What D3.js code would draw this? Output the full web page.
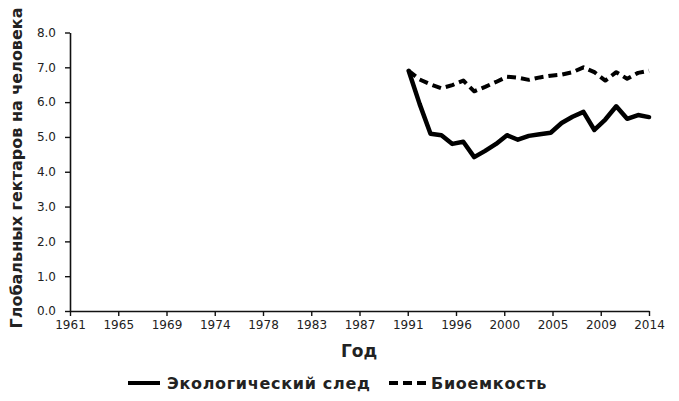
<!DOCTYPE html>
<html><head><meta charset="utf-8">
<script src="https://cdn.jsdelivr.net/npm/d3@7"></script>
<style>body{margin:0;background:#fff}svg{display:block}</style>
</head><body>
<script>
const years = d3.range(1992, 2015);
const footprint = [6.9, 5.95, 5.09, 5.05, 4.8, 4.86, 4.42, 4.6, 4.8, 5.05, 4.92, 5.03, 5.08, 5.12, 5.4, 5.58, 5.72, 5.2, 5.5, 5.88, 5.52, 5.63, 5.57];
const biocapacity = [6.9, 6.65, 6.51, 6.4, 6.49, 6.62, 6.31, 6.44, 6.58, 6.73, 6.7, 6.64, 6.71, 6.76, 6.79, 6.86, 7.0, 6.86, 6.62, 6.86, 6.67, 6.84, 6.9];
const xTickLabels = ["1961","1965","1969","1974","1978","1983","1987","1991","1996","2000","2005","2009","2014"];
const yTicks = [0,1,2,3,4,5,6,7,8];
const seriesNames = ["Экологический след", "Биоемкость"];
const yTitle = "Глобальных гектаров на человека";
const xTitle = "Год";

const W = 679, H = 401;
const svg = d3.select("body").append("svg").attr("width", W).attr("height", H);
const x = d3.scaleLinear().domain([1961, 2014]).range([70, 649]);
const y = d3.scaleLinear().domain([0, 8]).range([311, 32.5]);
const font = "'DejaVu Sans', Verdana, sans-serif";

const xTickVals = xTickLabels.map((d, i) => 1961 + 53 * i / (xTickLabels.length - 1));
const xAxis = d3.axisBottom(x).tickValues(xTickVals).tickFormat((d, i) => xTickLabels[i]).tickSize(5).tickSizeOuter(0);
const yAxis = d3.axisLeft(y).tickValues(yTicks).tickFormat(d3.format(".1f")).tickSize(5).tickSizeOuter(0);

const gx = svg.append("g").attr("transform", `translate(0,${y(0)})`).call(xAxis);
const gy = svg.append("g").attr("transform", `translate(${x(1961)},0)`).call(yAxis);
[gx, gy].forEach(g => {
  g.select(".domain").attr("stroke", "#111").attr("stroke-width", 1.6);
  g.selectAll(".tick line").attr("stroke", "#111").attr("stroke-width", 1.4);
  g.selectAll(".tick text").attr("fill", "#222").style("font-family", font).style("font-size", "12px");
});
gx.selectAll(".tick text").attr("dy", "0.85em");
gy.selectAll(".tick text").attr("x", -14);

const line = d3.line().x((d, i) => x(years[i])).y(d => y(d));
svg.append("path").datum(biocapacity).attr("d", line).attr("fill", "none")
  .attr("stroke", "#000").attr("stroke-width", 4).attr("stroke-dasharray", "9,5").attr("stroke-linejoin", "round");
svg.append("path").datum(footprint).attr("d", line).attr("fill", "none")
  .attr("stroke", "#000").attr("stroke-width", 4.5).attr("stroke-linejoin", "round").attr("stroke-linecap", "round");

svg.append("text").attr("transform", `translate(22,168) rotate(-90)`)
  .attr("text-anchor", "middle").style("font-family", font).style("font-weight", "bold")
  .style("font-size", "16px").attr("fill", "#222").text(yTitle);
svg.append("text").attr("x", 359).attr("y", 357).attr("text-anchor", "middle")
  .style("font-family", font).style("font-weight", "bold").style("font-size", "17px").attr("fill", "#222").text(xTitle);

// legend
const ly = 383;
svg.append("line").attr("x1", 128).attr("x2", 160).attr("y1", ly).attr("y2", ly).attr("stroke", "#000").attr("stroke-width", 4);
svg.append("text").attr("x", 167).attr("y", ly + 6).style("font-family", font).style("font-weight", "bold")
  .style("font-size", "16px").style("letter-spacing", "0.7px").attr("fill", "#222").text(seriesNames[0]);
svg.append("line").attr("x1", 389).attr("x2", 427).attr("y1", ly).attr("y2", ly).attr("stroke", "#000").attr("stroke-width", 4).attr("stroke-dasharray", "9,5");
svg.append("text").attr("x", 431).attr("y", ly + 6).style("font-family", font).style("font-weight", "bold")
  .style("font-size", "16px").style("letter-spacing", "0.7px").attr("fill", "#222").text(seriesNames[1]);
</script>
</body></html>
